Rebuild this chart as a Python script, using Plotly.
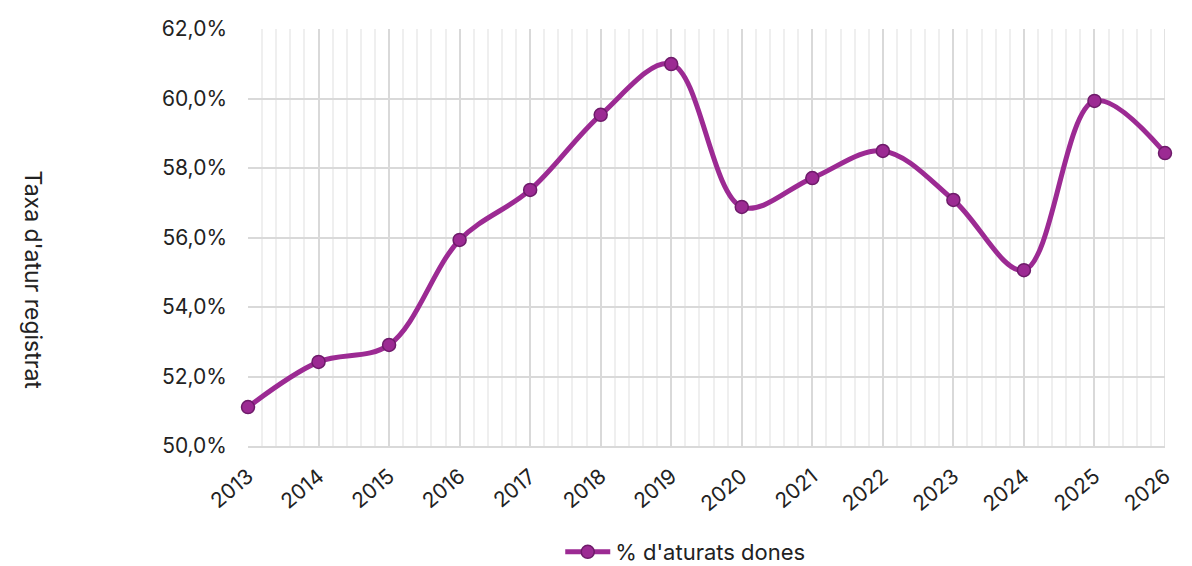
import plotly.graph_objects as go

years = [2013, 2014, 2015, 2016, 2017, 2018, 2019, 2020, 2021, 2022, 2023, 2024, 2025, 2026]
pct_women = [51.12, 52.42, 52.91, 55.93, 57.37, 59.53, 60.99, 56.88, 57.71, 58.49, 57.08, 55.06, 59.93, 58.43]
series_name = "% d'aturats dones"
y_title = "Taxa d'atur registrat"

FONT = "Inter, Open Sans, sans-serif"

fig = go.Figure()
fig.add_trace(go.Scatter(
    x=years, y=pct_women, name=series_name,
    mode="lines+markers", cliponaxis=False,
    line=dict(color="#9C2A93", width=5, shape="spline", smoothing=1.0),
    marker=dict(size=13, color="#9C2A93", line=dict(color="#6E1B6A", width=1.5)),
))

# page body has an 8px default margin, so the figure is sized 1184x558
fig.update_layout(
    width=1184, height=558,
    margin=dict(l=240, r=27, t=21, b=120, autoexpand=False),
    paper_bgcolor="white", plot_bgcolor="white",
    separators=",.",
    font=dict(family=FONT, size=21, color="#222222"),
    showlegend=True,
    legend=dict(orientation="h", xref="container", yref="container",
                x=0.572, xanchor="center", y=0.025, yanchor="middle",
                itemwidth=45,
                font=dict(size=22, color="#222222")),
    xaxis=dict(
        range=[2013, 2026], tickmode="array", tickvals=years,
        ticktext=[str(y) for y in years], tickangle=-40,
        showgrid=True, gridcolor="#D9D9D9", gridwidth=1.5,
        minor=dict(dtick=0.2, tick0=2013, showgrid=True, gridcolor="#EFEFEF", gridwidth=1.5),
        showline=True, linecolor="#D9D9D9", linewidth=2, mirror=False,
        zeroline=False, ticks="", ticklen=0, ticklabelstandoff=8,
        automargin=False,
        tickfont=dict(size=21, color="#222222"),
    ),
    yaxis=dict(
        range=[50, 62], dtick=2, tick0=50,
        tickformat=".1f", ticksuffix="%",
        showgrid=True, gridcolor="#D9D9D9", gridwidth=1.5,
        zeroline=False, showline=False, ticks="", ticklabelstandoff=20,
        automargin=False,
        tickfont=dict(size=21, color="#222222"),
    ),
    annotations=[dict(
        text=y_title, xref="paper", yref="paper",
        x=-0.235, y=0.398, xanchor="center", yanchor="middle",
        textangle=90, showarrow=False,
        font=dict(size=23, color="#222222", family=FONT),
    )],
)
fig.add_shape(type="line", xref="x", yref="paper", x0=2026, x1=2026, y0=0, y1=1,
              line=dict(color="#D9D9D9", width=1.5), layer="below")

fig.write_html("out.html")
